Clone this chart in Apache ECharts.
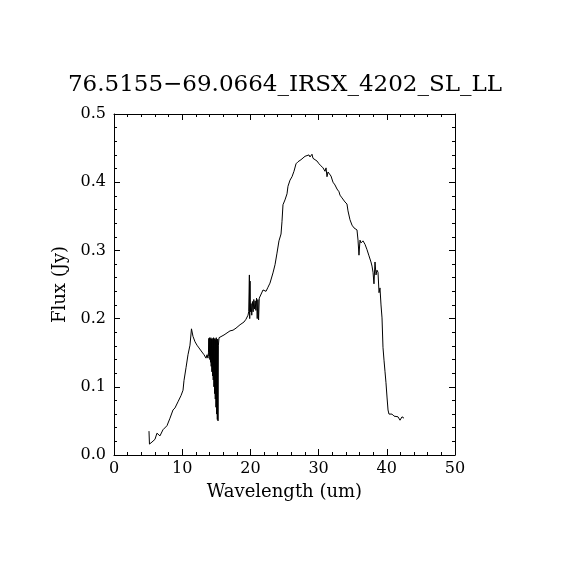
<!DOCTYPE html>
<html>
<head>
<meta charset="utf-8">
<script src="https://cdn.jsdelivr.net/npm/echarts@6/dist/echarts.min.js"></script>
<style>
  html, body { margin: 0; padding: 0; background: #fff; }
  #chart { width: 570px; height: 570px; }
</style>
</head>
<body>
<div id="chart"></div>
<script>
// spectrum (um, Jy)
var wavelength = [
  5.13, 5.2, 5.57, 6.01, 6.3, 6.74, 7.18, 7.77, 8.21, 8.65, 8.94, 9.38, 9.82, 10.12, 10.26, 10.56, 10.85, 11.14, 11.36, 11.58,
  11.88, 12.17, 12.46, 12.9, 13.2, 13.49, 13.64, 13.78,
  13.85, 13.9, 13.95, 14.0, 14.05, 14.1, 14.15, 14.2, 14.25, 14.3, 14.35, 14.4, 14.45, 14.5, 14.55, 14.6, 14.65, 14.7,
  14.75, 14.8, 14.85, 14.9, 14.95, 15.0, 15.05, 15.1, 15.15, 15.2, 15.25, 15.3, 15.4,
  15.54, 16.13, 16.57, 17.01, 17.45, 17.89, 18.48, 18.77, 19.06, 19.35, 19.65,
  19.75, 19.85, 19.9, 19.95, 20.0, 20.1, 20.2, 20.3, 20.4, 20.5, 20.6, 20.7, 20.8, 20.9, 21.0, 21.1, 21.2, 21.3, 21.45,
  21.85, 22.29, 22.58, 22.87, 23.31, 23.61, 23.9, 24.19, 24.49, 24.63, 24.78, 25.07, 25.37, 25.51, 25.81, 26.1, 26.39,
  26.69, 26.98, 27.42, 27.71, 28.01, 28.3, 28.59, 28.74, 29.03, 29.18, 29.47, 29.77, 30.06, 30.35, 30.65, 30.94, 31.09,
  31.23, 31.38, 31.67, 31.82, 32.11, 32.4, 32.7, 32.99, 33.14, 33.43, 33.72, 33.87, 34.16, 34.31, 34.6, 34.9, 35.19,
  35.48, 35.63, 35.78, 35.92, 36.07, 36.22, 36.51, 36.8, 37.1, 37.39, 37.68, 37.83, 37.98, 38.12, 38.27, 38.42, 38.56,
  38.71, 38.86, 39.0, 39.15, 39.3, 39.44, 39.59, 39.74, 39.88, 40.03, 40.18, 40.32, 40.47, 40.76, 41.06, 41.35, 41.64,
  41.94, 42.23, 42.52
];
var flux = [
  0.035, 0.016, 0.019, 0.023, 0.032, 0.028, 0.037, 0.043, 0.054, 0.066, 0.069, 0.078, 0.087, 0.095, 0.109, 0.128, 0.147, 0.161, 0.185, 0.174,
  0.166, 0.161, 0.157, 0.151, 0.147, 0.142, 0.147, 0.142,
  0.150, 0.171, 0.145, 0.172, 0.140, 0.170, 0.136, 0.172, 0.130, 0.170, 0.122, 0.171, 0.116, 0.169, 0.110, 0.172, 0.100, 0.170,
  0.090, 0.171, 0.082, 0.169, 0.070, 0.172, 0.060, 0.168, 0.052, 0.170, 0.050, 0.160, 0.172,
  0.173, 0.176, 0.179, 0.182, 0.183, 0.186, 0.191, 0.189, 0.195, 0.199, 0.205,
  0.210, 0.264, 0.200, 0.255, 0.210, 0.222, 0.205, 0.225, 0.210, 0.228, 0.214, 0.226, 0.212, 0.230, 0.200, 0.228, 0.198, 0.230, 0.232,
  0.242, 0.240, 0.246, 0.252, 0.267, 0.279, 0.296, 0.314, 0.324, 0.342, 0.367, 0.374, 0.383, 0.394, 0.403, 0.408, 0.416,
  0.427, 0.430, 0.433, 0.434, 0.438, 0.437, 0.440, 0.437, 0.441, 0.435, 0.434, 0.431, 0.427, 0.424, 0.421, 0.416, 0.421,
  0.408, 0.415, 0.416, 0.409, 0.400, 0.396, 0.390, 0.386, 0.381, 0.377, 0.378, 0.371, 0.368, 0.358, 0.345, 0.337, 0.333,
  0.334, 0.330, 0.315, 0.293, 0.315, 0.311, 0.314, 0.309, 0.301, 0.292, 0.283, 0.277, 0.268, 0.251, 0.283, 0.264, 0.271,
  0.268, 0.238, 0.245, 0.220, 0.201, 0.158, 0.139, 0.122, 0.106, 0.085, 0.066, 0.060, 0.059, 0.060, 0.057, 0.059, 0.056,
  0.051, 0.056, 0.054
];
var xTicks = [0, 10, 20, 30, 40, 50];
var yTicks = [0.0, 0.1, 0.2, 0.3, 0.4, 0.5];

var font = 'DejaVu Serif';
var chart = echarts.init(document.getElementById('chart'));

var points = wavelength.map(function (w, i) { return [w, flux[i]]; });

function axisBase(show) {
  return {
    type: 'value',
    axisLine: { show: true, onZero: false, lineStyle: { color: '#000', width: 1 } },
    axisTick: { show: true, inside: true, length: 6, lineStyle: { color: '#000' } },
    minorTick: { show: true, splitNumber: 5, length: 3, lineStyle: { color: '#000' } },
    splitLine: { show: false },
    axisLabel: { show: show, color: '#000', fontFamily: font, fontSize: 16 }
  };
}

var xBottom = Object.assign(axisBase(true), {
  position: 'bottom', min: xTicks[0], max: xTicks[xTicks.length - 1], interval: 10,
  name: 'Wavelength (um)', nameLocation: 'middle', nameGap: 28,
  nameTextStyle: { color: '#000', fontFamily: font, fontSize: 18 }
});
xBottom.axisLabel.margin = 6;
xBottom.axisLabel.formatter = function (v) { return String(v); };
var xTop = Object.assign(axisBase(false), {
  position: 'top', min: xTicks[0], max: xTicks[xTicks.length - 1], interval: 10
});
var yLeft = Object.assign(axisBase(true), {
  position: 'left', min: yTicks[0], max: yTicks[yTicks.length - 1], interval: 0.1,
  name: 'Flux (Jy)', nameLocation: 'middle', nameGap: 42,
  nameTextStyle: { color: '#000', fontFamily: font, fontSize: 18 }
});
yLeft.axisLabel.margin = 8;
yLeft.axisLabel.formatter = function (v) { return v.toFixed(1); };
var yRight = Object.assign(axisBase(false), {
  position: 'right', min: yTicks[0], max: yTicks[yTicks.length - 1], interval: 0.1
});

chart.setOption({
  backgroundColor: '#fff',
  animation: false,
  title: {
    text: '76.5155\u221269.0664_IRSX_4202_SL_LL',
    left: 'center',
    top: 69,
    textStyle: { color: '#000', fontFamily: font, fontSize: 23, fontWeight: 'normal' }
  },
  grid: { left: 114, right: 115, top: 114, bottom: 115 },
  xAxis: [xBottom, xTop],
  yAxis: [yLeft, yRight],
  series: [{
    type: 'line',
    data: points,
    showSymbol: false,
    lineStyle: { color: '#000', width: 1 },
    xAxisIndex: 0,
    yAxisIndex: 0
  }]
});
</script>
</body>
</html>
